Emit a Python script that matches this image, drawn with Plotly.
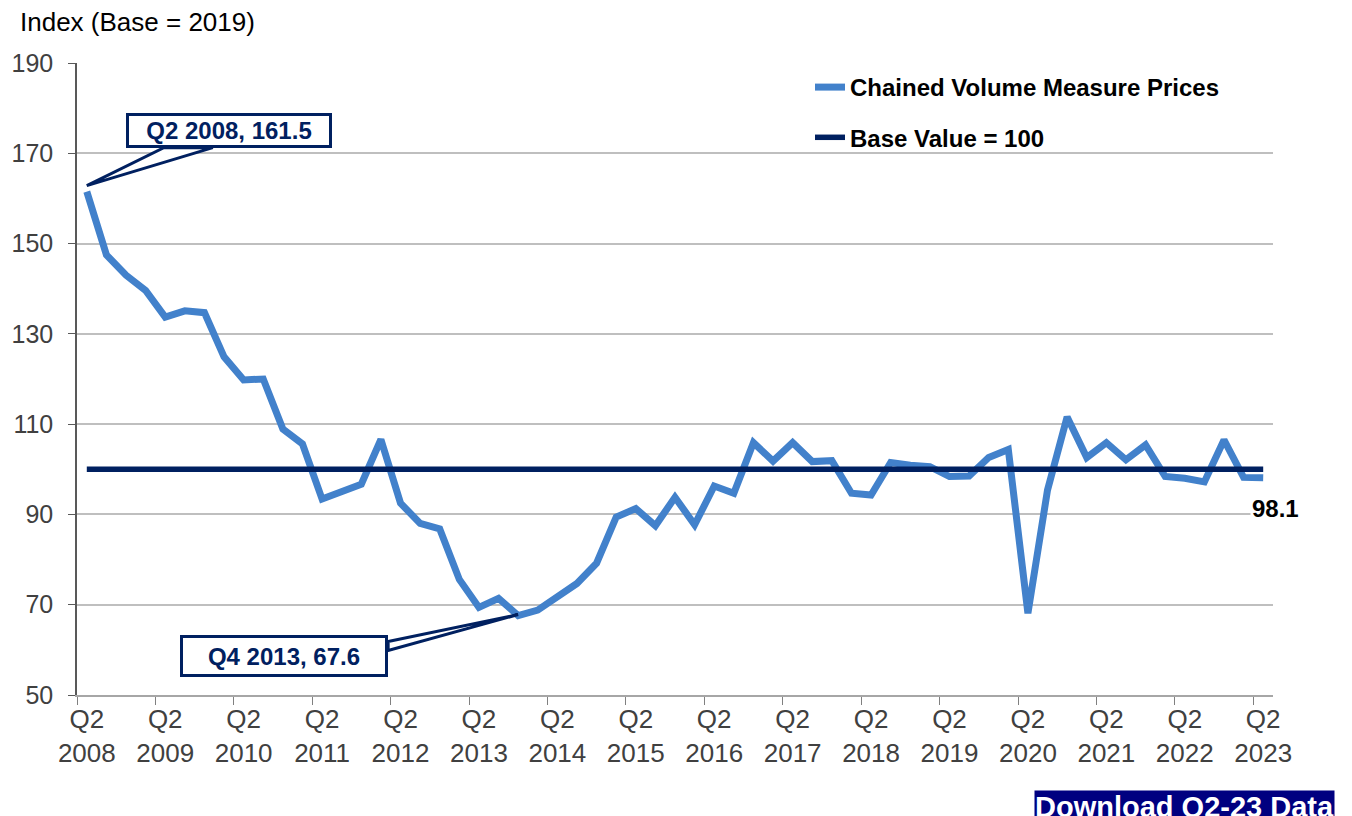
import plotly.graph_objects as go

# ---------------- data ----------------
quarters = [
    "Q2 2008", "Q3 2008", "Q4 2008", "Q1 2009", "Q2 2009", "Q3 2009", "Q4 2009", "Q1 2010",
    "Q2 2010", "Q3 2010", "Q4 2010", "Q1 2011", "Q2 2011", "Q3 2011", "Q4 2011", "Q1 2012",
    "Q2 2012", "Q3 2012", "Q4 2012", "Q1 2013", "Q2 2013", "Q3 2013", "Q4 2013", "Q1 2014",
    "Q2 2014", "Q3 2014", "Q4 2014", "Q1 2015", "Q2 2015", "Q3 2015", "Q4 2015", "Q1 2016",
    "Q2 2016", "Q3 2016", "Q4 2016", "Q1 2017", "Q2 2017", "Q3 2017", "Q4 2017", "Q1 2018",
    "Q2 2018", "Q3 2018", "Q4 2018", "Q1 2019", "Q2 2019", "Q3 2019", "Q4 2019", "Q1 2020",
    "Q2 2020", "Q3 2020", "Q4 2020", "Q1 2021", "Q2 2021", "Q3 2021", "Q4 2021", "Q1 2022",
    "Q2 2022", "Q3 2022", "Q4 2022", "Q1 2023", "Q2 2023",
]
cvm_prices = [
    161.5, 147.5, 143.0, 139.6, 133.7, 135.1, 134.7, 124.9,
    119.8, 120.0, 108.9, 105.6, 93.4, 95.0, 96.7, 106.6,
    92.5, 88.0, 86.8, 75.6, 69.4, 71.4, 67.6, 68.8,
    71.8, 74.7, 79.2, 89.4, 91.3, 87.5, 93.8, 87.7,
    96.3, 94.7, 105.9, 101.8, 105.9, 101.7, 101.9, 94.7,
    94.3, 101.5, 100.9, 100.6, 98.4, 98.5, 102.6, 104.4,
    68.1, 95.4, 111.6, 102.6, 105.9, 102.1, 105.4, 98.4,
    98.0, 97.2, 106.5, 98.2, 98.1,
]
base_value = 100
base_series = [base_value] * len(quarters)

tick_labels = ["Q2<br>2008", "Q2<br>2009", "Q2<br>2010", "Q2<br>2011", "Q2<br>2012",
               "Q2<br>2013", "Q2<br>2014", "Q2<br>2015", "Q2<br>2016", "Q2<br>2017",
               "Q2<br>2018", "Q2<br>2019", "Q2<br>2020", "Q2<br>2021", "Q2<br>2022",
               "Q2<br>2023"]
y_ticks = [50, 70, 90, 110, 130, 150, 170, 190]

series_name = "Chained Volume Measure Prices"
base_name = "Base Value = 100"
y_title = "Index (Base = 2019)"
button_text = "Download Q2-23 Data"

# ---------------- style ----------------
FONT = "Liberation Sans, Arial, sans-serif"
BLUE = "#4281CB"
NAVY = "#002060"
GRID = "#BFBFBF"
TICKC = "#404040"

x_idx = list(range(len(quarters)))
tick_vals = [i for i, q in enumerate(quarters) if q.startswith("Q2")]
boundary_ticks = [v - 0.5 for v in tick_vals]

fig = go.Figure()
fig.add_trace(go.Scatter(
    x=x_idx, y=cvm_prices, name=series_name, mode="lines",
    line=dict(color=BLUE, width=7), text=quarters,
    hovertemplate="%{text}: %{y}<extra></extra>", legendgroup="a",
))
fig.add_trace(go.Scatter(
    x=x_idx, y=base_series, name=base_name, mode="lines",
    line=dict(color=NAVY, width=5.5), text=quarters,
    hovertemplate="%{text}: %{y}<extra></extra>", legendgroup="b",
))

# highlight points: first value and minimum
i_first = 0
i_min = cvm_prices.index(min(cvm_prices))
i_last = len(cvm_prices) - 1

annotations = [
    dict(x=i_first, y=cvm_prices[i_first], xref="x", yref="y",
         text=f"<b>{quarters[i_first]}, {cvm_prices[i_first]}</b>", showarrow=False,
         xanchor="left", yanchor="bottom", xshift=39, yshift=44,
         font=dict(family=FONT, size=24, color=NAVY),
         bgcolor="white", bordercolor=NAVY, borderwidth=3, borderpad=1, width=198),
    dict(x=i_min, y=cvm_prices[i_min], xref="x", yref="y",
         text=f"<b>{quarters[i_min]}, {cvm_prices[i_min]}</b>", showarrow=False,
         xanchor="right", yanchor="top", xshift=-130, yshift=-19,
         font=dict(family=FONT, size=24, color=NAVY),
         bgcolor="white", bordercolor=NAVY, borderwidth=3, borderpad=2, width=198, height=32),
    dict(x=i_last, y=cvm_prices[i_last], xref="x", yref="y",
         text=f"<b>{cvm_prices[i_last]}</b>", showarrow=False,
         xanchor="center", yanchor="middle", xshift=12, yshift=-31,
         font=dict(family=FONT, size=24, color="black"), bgcolor="white"),
    dict(x=-59 / 1196, y=(632 + 41) / 632, xref="paper", yref="paper",
         text=y_title, showarrow=False, xanchor="left", yanchor="middle",
         font=dict(family=FONT, size=26, color="black")),
    dict(x=(1335 - 77) / 1196, y=(695 - 790) / 632, xref="paper", yref="paper",
         text=f"<b>{button_text}</b>", showarrow=False, xanchor="right", yanchor="top",
         font=dict(family=FONT, size=29, color="white"), bgcolor="#000080", borderpad=0),
]

shapes = [
    dict(type="path", xref="x", yref="y", xsizemode="pixel", ysizemode="pixel",
         xanchor=i_first, yanchor=cvm_prices[i_first],
         path="M 0,6 L 77,44 L 126,44 Z",
         line=dict(color=NAVY, width=3), fillcolor="white", layer="above"),
    dict(type="path", xref="x", yref="y", xsizemode="pixel", ysizemode="pixel",
         xanchor=i_min, yanchor=cvm_prices[i_min],
         path="M 0,1 L -130,-26 L -130,-35 Z",
         line=dict(color=NAVY, width=3), fillcolor="white", layer="above"),
]

fig.update_layout(
    width=1344, height=808,
    margin=dict(l=69, r=79, t=55, b=121, autoexpand=False),
    paper_bgcolor="white", plot_bgcolor="white",
    font=dict(family=FONT, size=25, color=TICKC),
    showlegend=True,
    legend=dict(x=(810 - 77) / 1196, y=(632 - 2) / 632, xanchor="left", yanchor="top",
                bgcolor="rgba(0,0,0,0)", traceorder="grouped", tracegroupgap=16,
                font=dict(family=FONT, size=24, color="black", weight="bold")),
    annotations=annotations,
    shapes=shapes,
    hovermode="closest",
)
fig.update_xaxes(
    range=[-0.5, len(quarters) - 0.5], tickmode="array", tickvals=tick_vals, ticktext=tick_labels,
    ticks="", showgrid=False, zeroline=False, automargin=False,
    showline=True, linecolor="#A6A6A6", linewidth=2,
    tickfont=dict(family=FONT, size=26, color=TICKC),
    minor=dict(tickmode="array", tickvals=boundary_ticks, ticks="outside", ticklen=8,
               tickcolor="#808080", tickwidth=1, showgrid=False),
)
fig.update_yaxes(
    range=[50, 190], tickmode="array", tickvals=y_ticks,
    showgrid=True, gridcolor=GRID, gridwidth=1.5, zeroline=False, automargin=False,
    showline=True, linecolor="#595959", linewidth=1.5,
    ticks="outside", ticklen=7, tickcolor="#595959", ticklabelstandoff=10,
    tickfont=dict(family=FONT, size=25, color=TICKC),
)

fig.write_html("out.html")
